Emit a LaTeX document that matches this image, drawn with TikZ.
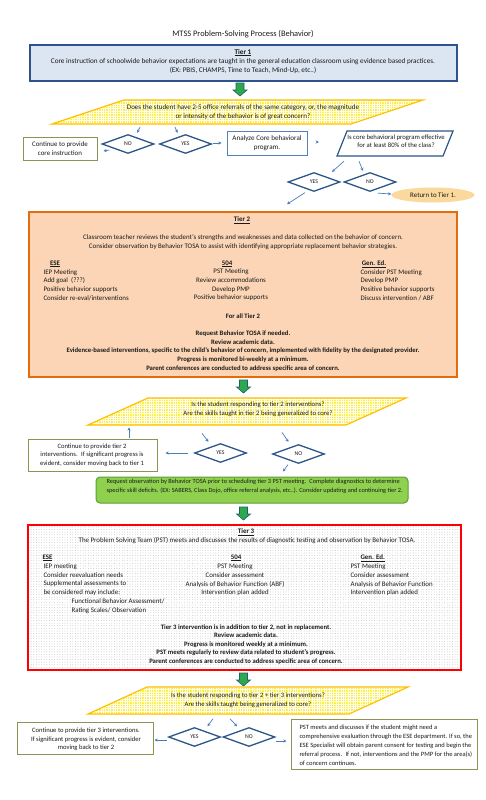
\documentclass[tikz,border=0pt]{standalone}
\usepackage{fontspec}
\setmainfont{Carlito}
\usetikzlibrary{shapes.geometric,arrows.meta,patterns.meta,calc,fit}
\definecolor{txt}{HTML}{1A1A1A}
\definecolor{tonefill}{HTML}{DCE6F2}
\definecolor{toneborder}{HTML}{2F528F}
\definecolor{ttwofill}{HTML}{FBD5B5}
\definecolor{ttwoborder}{HTML}{E46C0A}
\definecolor{gboxfill}{HTML}{8FD14F}
\definecolor{gboxborder}{HTML}{5E9E32}
\definecolor{olive}{HTML}{8B9553}
\definecolor{arrblue}{HTML}{4A7EBB}
\definecolor{diacol}{HTML}{2C5687}
\definecolor{anaborder}{HTML}{4F81BD}
\definecolor{qborder}{HTML}{FFC000}
\definecolor{qfill}{HTML}{FFF033}
\definecolor{garrfill}{HTML}{2DA84F}
\definecolor{garrborder}{HTML}{1F5F6B}
\definecolor{retfill}{HTML}{FBD89C}
\begin{document}
\begin{tikzpicture}[x=1pt,y=-1pt,
  every node/.style={text=txt},
  box/.style={inner sep=0pt},
  olivebox/.style={box, draw=olive, line width=1pt, fill=white},
  dia/.style={diamond, draw=diacol, line width=1.3pt, fill=white, minimum width=52pt, minimum height=19pt, inner sep=0pt, font=\fontsize{5.8}{6}\selectfont},
  arr/.style={draw=arrblue, line width=0.7pt, -{Stealth[length=3.2pt,width=3.2pt]}},
  qpara/.style={draw=qborder, line width=1.2pt, preaction={fill=qfill}, pattern={Hatch[angle=0,distance=2.4pt,line width=0.6pt]}, pattern color=white},
  ftxt/.style={font=\fontsize{6.9}{8.7}\selectfont},
  fsmall/.style={font=\fontsize{6.6}{8.6}\selectfont},
  fhead/.style={font=\bfseries\fontsize{6.9}{8}\selectfont},
  fbold/.style={font=\bfseries\fontsize{6.7}{8.6}\selectfont},
  gdown/.pic={\draw[draw=garrborder, fill=garrfill, line width=0.6pt] (-4,0) -- (4,0) -- (4,7) -- (7,7) -- (0,13) -- (-7,7) -- (-4,7) -- cycle;}
]
\useasboundingbox (0,0) rectangle (486,800);
\fill[white] (0,0) rectangle (486,800);

% Title
\node[font=\fontsize{8.4}{10}\selectfont] (title) at (243,34) {MTSS Problem-Solving Process (Behavior)};

% Tier 1
\node[box, fit={(30,45) (457,81)}, draw=toneborder, fill=tonefill, line width=1.5pt] (t1) {};
\node[align=center, font=\fontsize{7.2}{9.4}\selectfont] (t1text) at (243,61.5) {\underline{\textbf{Tier 1}}\\Core instruction of schoolwide behavior expectations are taught in the general education classroom using evidence based practices.\\(EX: PBIS, CHAMPS, Time to Teach, Mind-Up, etc..)};
\pic at (240,83) {gdown};

% Question 1
\path[qpara] (52,124) -- (124,100) -- (423,100) -- (351,124) -- cycle;
\node[align=center, font=\fontsize{7.0}{9}\selectfont] (q1) at (243,112) {Does the student have 2-5 office referrals of the same category, or, the magnitude\\or intensity of the behavior is of great concern?};

\node[dia] (no1) at (128,144) {NO};
\node[dia] (yes1) at (185.5,144) {YES};
\node[olivebox, fit={(23,137) (97,160)}] (core) {};
\node[align=center, font=\fontsize{6.9}{9}\selectfont] (coretext) at (60,148.5) {Continue to provide\\core instruction};
\node[box, fit={(227,131) (307,155)}, draw=anaborder, line width=0.9pt, fill=white] (ana) {};
\node[align=center, font=\fontsize{7.1}{9.5}\selectfont] (anatext) at (267,143) {Analyze Core behavioral\\program.};
\path[draw=diacol, line width=1.2pt, fill=white] (337,156) -- (347,131) -- (453,131) -- (443,156) -- cycle;
\node[align=center, font=\fontsize{6.7}{7.6}\selectfont] (iscore) at (396,141.5) {Is core behavioral program effective\\for at least 80\% of the class?};
\node[dia] (yes2) at (314,182) {YES};
\node[dia] (no2) at (370,182) {NO};
\node[ellipse, fill=retfill, minimum width=83pt, minimum height=15pt, inner sep=0pt, font=\fontsize{6.9}{8}\selectfont] (ret) at (433,195) {Return to Tier 1.};

\draw[arr] ($(q1.south)+(-103,4)$) -- ($(no1.north)+(9,-1)$);
\draw[arr] ($(q1.south)+(-68,4)$) -- ($(yes1.north)+(-8,-1)$);
\draw[arr] ($(no1.west)+(8,6)$) -- ($(core.east)+(6,2.5)$);
\draw[arr] ($(yes1.east)+(1,-1)$) -- ($(ana.west)+(-5,0)$);
\draw[arr] ($(ana.east)+(10,-1)$) -- ($(iscore.west)+(-25,0.5)$);
\draw[arr] ($(iscore.south)+(-52,10)$) -- ($(yes2.north)+(18,0)$);
\draw[arr] ($(iscore.south)+(-37,10)$) -- ($(no2.north)+(-7,-1)$);
\draw[arr] ($(no2.south)+(8,1)$) -- ($(ret.west)+(0,-1)$);

% Tier 2
\node[box, fit={(29,212) (457,377)}, draw=ttwoborder, fill=ttwofill, line width=1.6pt] (t2) {};
\draw[arr] ($(yes2.south)+(-9,0.5)$) -- ($(t2.north)+(44,-7)$);
\node[fhead] (t2head) at (242,220) {\underline{Tier 2}};
\node[ftxt, align=center] (t2intro) at (243,242.5) {Classroom teacher reviews the student’s strengths and weaknesses and data collected on the behavior of concern.\\Consider observation by Behavior TOSA to assist with identifying appropriate replacement behavior strategies.};
\node[fhead] (t2ese) at (55,264) {\underline{ESE}};
\node[fhead] (t2fzf) at (227,264) {\underline{504}};
\node[fhead] (t2gen) at (374,264) {\underline{Gen. Ed.}};
\node[ftxt, align=left, anchor=west] (t2esel) at (40,285) {IEP Meeting\\Add goal~ (???)\\Positive behavior supports\\Consider re-eval/interventions};
\node[ftxt, align=center] (t2fzfl) at (231,285) {PST Meeting\\Review accommodations\\Develop PMP\\Positive behavior supports};
\node[ftxt, align=left, anchor=west] (t2genl) at (357,285) {Consider PST Meeting\\Develop PMP\\Positive behavior supports\\Discuss intervention / ABF};
\node[fbold] (t2all) at (243,316) {For all Tier 2};
\node[fbold, align=center] (t2bold) at (243,351) {Request Behavior TOSA if needed.\\Review academic data.\\Evidence-based interventions, specific to the child’s behavior of concern, implemented with fidelity by the designated provider.\\Progress is monitored bi-weekly at a minimum.\\Parent conferences are conducted to address specific area of concern.};
\pic at (243.5,380) {gdown};

% Question 2
\path[qpara] (88,425) -- (148,398) -- (406,398) -- (346,425) -- cycle;
\node[align=center, font=\fontsize{6.7}{9}\selectfont] (q2) at (258,409.5) {Is the student responding to tier 2 interventions?\\Are the skills taught in tier 2 being generalized to core?};
\node[dia] (yes3) at (220.5,453) {YES};
\node[dia] (no3) at (298.5,454) {NO};
\node[olivebox, fit={(28,439) (157,471)}] (cont2) {};
\node[fsmall, align=center] (cont2text) at (92,455) {Continue to provide tier 2\\interventions.~ If significant progress is\\evident, consider moving back to tier 1};
\draw[arr] ($(q2.south)+(-56,13)$) -- ($(yes3.north)+(-12,-1)$);
\draw[arr] ($(q2.south)+(24,12)$) -- ($(no3.north)+(-10,-2)$);
\draw[arr] ($(yes3.west)+(-6,0)$) -- ($(cont2.east)+(8,-2)$);
\draw[arr] ($(cont2.north)+(36.5,-1)$) -- ($(q2.south)+(-129,7)$);
\node[box, fit={(96,477) (408,503)}, draw=gboxborder, fill=gboxfill, line width=1pt, rounded corners=4pt] (gbox) {};
\draw[arr] ($(no3.south)+(-10.5,0.5)$) -- ($(gbox.north)+(31,-5)$);
\node[align=left, anchor=west, font=\fontsize{6.35}{9}\selectfont] (gboxtext) at (103,486.5) {Request observation by Behavior TOSA prior to scheduling tier 3 PST meeting.~ Complete diagnostics to determine\\specific skill deficits. (EX: SABERS, Class Dojo, office referral analysis, etc..). Consider updating and continuing tier 2.};
\pic at (243.5,507) {gdown};

% Tier 3
\node[box, fit={(28,525) (461,670)}, draw=red, line width=1.6pt, preaction={fill=white}, pattern={Dots[distance=2.6pt,radius=0.35pt]}, pattern color=black!35] (t3) {};
\node[fhead] (t3head) at (246,532) {\underline{Tier 3}};
\node[ftxt] (t3intro) at (247,541) {The Problem Solving Team (PST) meets and discusses the results of diagnostic testing and observation by Behavior TOSA.};
\node[fhead, anchor=west] (t3ese) at (39,558) {\underline{ESE}};
\node[fhead] (t3fzf) at (236,558) {\underline{504}};
\node[fhead, anchor=west] (t3gen) at (357,558) {\underline{Gen. Ed.}};
\node[ftxt, align=left, anchor=west] (t3esel) at (40,588.5) {IEP meeting\\Consider reevaluation needs\\Supplemental assessments to\\be considered may include:\\\hspace*{28pt}Functional Behavior Assessment/\\\hspace*{28pt}Rating Scales/ Observation};
\node[ftxt, align=center] (t3fzfl) at (235,580) {PST Meeting\\Consider assessment\\Analysis of Behavior Function (ABF)\\Intervention plan added};
\node[ftxt, align=left, anchor=west] (t3genl) at (347,580) {PST Meeting\\Consider assessment\\Analysis of Behavior Function\\Intervention plan added};
\node[fbold, align=center] (t3bold) at (246,644.5) {Tier 3 intervention is in addition to tier 2, not in replacement.\\Review academic data.\\Progress is monitored weekly at a minimum.\\PST meets regularly to review data related to student’s progress.\\Parent conferences are conducted to address specific area of concern.};
\pic at (243.5,673) {gdown};

% Question 3
\path[qpara] (88,714) -- (147,687) -- (408,687) -- (349,714) -- cycle;
\node[align=center, font=\fontsize{6.7}{8.6}\selectfont] (q3) at (248,700) {Is the student responding to tier 2 + tier 3 interventions?\\Are the skills taught being generalized to core?};
\node[dia] (yes4) at (194.5,737) {YES};
\node[dia] (no4) at (249,737) {NO};
\node[olivebox, fit={(17,722) (153,754)}] (cont3) {};
\node[fsmall, align=center] (cont3text) at (86,739.5) {Continue to provide tier 3 interventions.\\If significant progress is evident, consider\\moving back to tier 2};
\node[olivebox, fit={(291,719) (477,769)}] (pst) {};
\node[align=left, anchor=west, font=\fontsize{6.5}{9}\selectfont] (psttext) at (296,745) {PST meets and discusses if the student might need a\\comprehensive evaluation through the ESE department. If so, the\\ESE Specialist will obtain parent consent for testing and begin the\\referral process.~ If not, interventions and the PMP for the area(s)\\of concern continues.};
\draw[arr] ($(q3.south)+(-35,8)$) -- ($(yes4.north)+(13,-0.5)$);
\draw[arr] ($(q3.south)+(-18,8)$) -- ($(no4.north)+(-12,-0.5)$);
\draw[arr] ($(yes4.west)+(-1,3)$) -- ($(cont3.east)+(1,2)$);
\draw[arr] ($(no4.east)+(0,4)$) -- ($(pst.west)+(-4,-3)$);
\end{tikzpicture}
\end{document}
